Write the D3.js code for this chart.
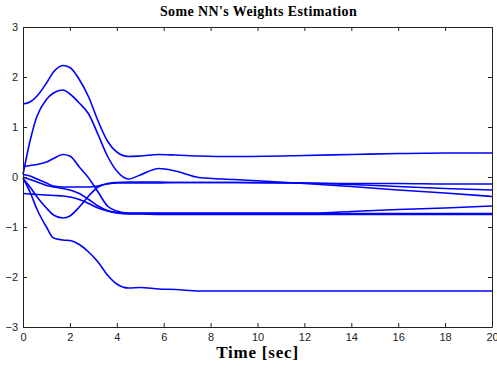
<!DOCTYPE html>
<html lang="en">
<head>
<meta charset="UTF-8">
<title>Some NN's Weights Estimation</title>
<script src="https://d3js.org/d3.v7.min.js"></script>
<style>
    body, html { margin: 0; padding: 0; background: #fff; }
    svg { display: block; }
    .tick text { font-family: "Liberation Sans", Arial, sans-serif; font-size: 11px; fill: #222; }
    .tick line, .domain { stroke: #222; }
    .title { font-family: "Liberation Serif", "Times New Roman", serif; font-weight: bold; font-size: 14px; letter-spacing: 0.4px; }
    .xlabel { font-family: "Liberation Serif", "Times New Roman", serif; font-weight: bold; font-size: 17px; letter-spacing: 0.8px; }
</style>
</head>
<body>
<svg width="497" height="369"></svg>
<script>
    // time knots (sec) shared by all weight curves
    const times = [0, 0.3, 0.6, 1.0, 1.3, 1.7, 2.0, 2.4, 2.8, 3.2, 3.6, 4.0, 4.5, 5.0, 5.8, 6.5, 7.5, 9, 12, 14, 16, 18, 20];

    const w1 = [1.46, 1.5, 1.62, 1.88, 2.1, 2.23, 2.19, 1.95, 1.6, 1.12, 0.72, 0.5, 0.41, 0.42, 0.45, 0.44, 0.42, 0.41, 0.43, 0.45, 0.47, 0.48, 0.48];
    const w2 = [0.05, 0.72, 1.22, 1.55, 1.68, 1.74, 1.66, 1.48, 1.26, 0.85, 0.42, 0.12, -0.04, 0.04, 0.17, 0.12, -0.01, -0.05, -0.13, -0.19, -0.26, -0.32, -0.39];
    const w3 = [0.2, 0.23, 0.25, 0.3, 0.37, 0.45, 0.42, 0.2, -0.02, -0.3, -0.58, -0.68, -0.72, -0.72, -0.72, -0.72, -0.72, -0.72, -0.72, -0.73, -0.73, -0.73, -0.73];
    const w4 = [-0.03, -0.2, -0.4, -0.62, -0.76, -0.82, -0.78, -0.6, -0.38, -0.2, -0.13, -0.11, -0.1, -0.1, -0.1, -0.11, -0.11, -0.11, -0.12, -0.13, -0.13, -0.14, -0.14];
    const w5 = [-0.02, -0.3, -0.65, -1.0, -1.22, -1.26, -1.27, -1.35, -1.5, -1.7, -1.96, -2.14, -2.22, -2.21, -2.24, -2.25, -2.28, -2.28, -2.28, -2.28, -2.28, -2.28, -2.28];
    const w6 = [0.05, 0.02, -0.04, -0.12, -0.18, -0.2, -0.2, -0.2, -0.2, -0.18, -0.14, -0.12, -0.12, -0.12, -0.12, -0.11, -0.11, -0.11, -0.12, -0.15, -0.19, -0.23, -0.26];
    const w7 = [0.0, -0.05, -0.1, -0.17, -0.2, -0.23, -0.26, -0.33, -0.45, -0.58, -0.67, -0.71, -0.73, -0.73, -0.73, -0.73, -0.73, -0.73, -0.73, -0.69, -0.65, -0.62, -0.58];
    const w8 = [-0.33, -0.34, -0.35, -0.36, -0.37, -0.38, -0.4, -0.45, -0.53, -0.62, -0.68, -0.72, -0.74, -0.74, -0.75, -0.75, -0.75, -0.75, -0.75, -0.75, -0.75, -0.75, -0.75];

    const weights = [w1, w2, w3, w4, w5, w6, w7, w8];

    const xTicks = [0, 2, 4, 6, 8, 10, 12, 14, 16, 18, 20];
    const yTicks = [-3, -2, -1, 0, 1, 2, 3];

    const margin = {top: 27, right: 5, bottom: 42, left: 23};
    const width = 497 - margin.left - margin.right;
    const height = 369 - margin.top - margin.bottom;

    const svg = d3.select("svg")
        .append("g")
        .attr("transform", `translate(${margin.left},${margin.top})`);

    const x = d3.scaleLinear().domain([0, 20]).range([0, width]);
    const y = d3.scaleLinear().domain([-3, 3]).range([height, 0]);

    // curves
    const line = d3.line()
        .x((d, i) => x(times[i]))
        .y(d => y(d))
        .curve(d3.curveMonotoneX);

    svg.selectAll(".weight")
        .data(weights)
        .enter().append("path")
        .attr("class", "weight")
        .attr("d", line)
        .attr("fill", "none")
        .attr("stroke", "#0000ff")
        .attr("stroke-width", 1.6);

    // axes, ticks pointing inward like matlab
    svg.append("g")
        .attr("transform", `translate(0,${height})`)
        .call(d3.axisBottom(x).tickValues(xTicks).tickFormat(d3.format("d")).tickSizeInner(-4).tickSizeOuter(0).tickPadding(6));

    svg.append("g")
        .call(d3.axisTop(x).tickValues(xTicks).tickSizeInner(-4).tickSizeOuter(0).tickFormat(""));

    svg.append("g")
        .call(d3.axisLeft(y).tickValues(yTicks).tickFormat(d3.format("d")).tickSizeInner(-4).tickSizeOuter(0).tickPadding(5));

    svg.append("g")
        .attr("transform", `translate(${width},0)`)
        .call(d3.axisRight(y).tickValues(yTicks).tickSizeInner(-4).tickSizeOuter(0).tickFormat(""));

    // title and x label
    svg.append("text")
        .attr("class", "title")
        .attr("x", width / 2 + 1)
        .attr("y", -11)
        .attr("text-anchor", "middle")
        .text("Some NN's Weights Estimation");

    svg.append("text")
        .attr("class", "xlabel")
        .attr("x", width / 2)
        .attr("y", height + 31)
        .attr("text-anchor", "middle")
        .text("Time [sec]");
</script>
</body>
</html>
